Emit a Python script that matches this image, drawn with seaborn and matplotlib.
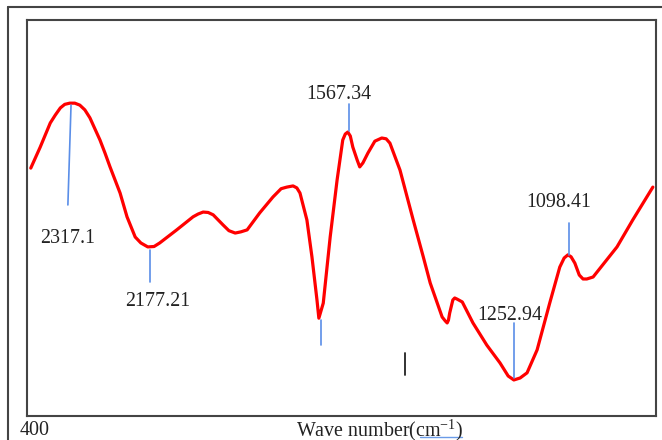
import numpy as np
import pandas as pd
import seaborn as sns
import matplotlib.pyplot as plt
from matplotlib.lines import Line2D

# spectrum (position along axis 0-100, transmittance 0-100)
pos = [0.6, 2.1, 3.7, 4.5, 5.3, 6.0, 6.8, 7.6, 8.4, 9.2, 10.0, 11.6, 12.4, 13.2, 14.0,
       14.8, 15.9, 17.2, 18.1, 19.2, 20.2, 21.1, 23.8, 26.4, 27.2, 28.0, 28.8, 29.6,
       31.2, 32.1, 33.1, 34.0, 35.0, 37.0, 39.1, 40.4, 41.3, 42.3, 42.9, 43.4, 44.5,
       45.3, 46.1, 46.4, 47.1, 48.2, 49.3, 50.2, 50.6, 51.0, 51.4, 51.8, 52.5, 52.9,
       53.4, 54.2, 55.3, 56.4, 57.1, 57.7, 59.3, 61.4, 63.0, 64.1, 66.0, 66.5, 66.8,
       67.0, 67.2, 67.7, 68.0, 68.4, 69.2, 70.9, 73.1, 75.2, 76.5, 77.4, 78.4, 79.5,
       81.1, 83.1, 84.7, 85.4, 86.0, 86.5, 87.1, 87.8, 88.4, 89.0, 90.0, 93.8, 96.3, 99.5]
trans = [62.6, 67.9, 74.0, 76.0, 77.8, 78.7, 79.0, 79.0, 78.5, 77.3, 75.3, 69.7, 66.4, 62.9, 59.6,
         56.3, 50.3, 45.2, 43.7, 42.7, 42.8, 43.7, 47.0, 50.3, 51.0, 51.5, 51.4, 50.8,
         48.2, 46.8, 46.2, 46.5, 47.0, 51.3, 55.3, 57.4, 57.8, 58.1, 57.6, 56.3, 49.5,
         40.2, 29.3, 24.7, 28.5, 45.2, 59.6, 69.7, 71.2, 71.7, 70.7, 67.9, 64.6, 62.9,
         63.9, 66.4, 69.4, 70.2, 70.0, 68.9, 62.1, 49.5, 40.2, 33.6, 25.0, 24.0, 23.5,
         24.2, 26.0, 29.3, 29.8, 29.5, 28.8, 23.5, 17.9, 13.4, 10.1, 9.1, 9.6, 10.9,
         16.7, 28.5, 37.6, 39.9, 40.7, 40.2, 38.6, 35.6, 34.6, 34.6, 35.1, 42.7, 49.5, 57.8]

# peak marks: label, x, line from y0 to y1, label position
peak_labels = ["2317.1", "2177.21", "1567.34", "", "1252.94", "1098.41"]
peak_x = [7.0, 19.6, 51.2, 46.7, 77.4, 86.2]
peak_x_end = [6.5, 19.6, 51.2, 46.7, 77.4, 86.2]
peak_y0 = [78.5, 41.9, 72.0, 24.2, 9.6, 40.7]
peak_y1 = [53.3, 33.8, 78.8, 17.9, 23.5, 48.7]
label_x = [6.5, 20.7, 49.6, 0, 76.8, 84.6]
label_y = [44.9, 28.8, 81.3, 0, 25.5, 53.8]

df = pd.DataFrame({"pos": pos, "trans": trans})

sns.set_style("white")
plt.rcParams["font.family"] = ["Liberation Serif", "DejaVu Serif"]
plt.rcParams["mathtext.default"] = "regular"

fig = plt.figure(figsize=(6.62, 4.40), dpi=100)
ax = fig.add_axes([27 / 662, 24 / 440, 629 / 662, 396 / 440])

sns.lineplot(data=df, x="pos", y="trans", sort=False, color="#ff0000", lw=2.3, ax=ax,
             solid_joinstyle="round", solid_capstyle="round")

blue = "#5a8ee8"
for lab, x0, x1, y0, y1, lx, ly in zip(peak_labels, peak_x, peak_x_end, peak_y0, peak_y1,
                                       label_x, label_y):
    ax.plot([x0, x1], [y0, y1], color=blue, lw=1.2)
    if lab:
        ax.text(lx, ly, lab, ha="center", va="center", fontsize=14.4, color="#222222")

# small black tick mark
ax.plot([60.1, 60.1], [10.4, 15.9], color="#222222", lw=1.3)

ax.set_xlim(0, 100)
ax.set_ylim(0, 100)
ax.set_xticks([])
ax.set_yticks([])
ax.set_xlabel("")
ax.set_ylabel("")
for s in ax.spines.values():
    s.set_color("#444444")
    s.set_linewidth(1.5)

# outer frame
fig.add_artist(Line2D([8 / 662, 8 / 662], [0, 433 / 440], color="#444444", lw=1.5))
fig.add_artist(Line2D([8 / 662, 1], [433 / 440, 433 / 440], color="#444444", lw=1.5))

fig.text(20 / 662, 1 - 430 / 440, "400", ha="left", va="center", fontsize=14.4, color="#222222")
fig.text(380 / 662, 1 - 430 / 440, "Wave number(cm$^{-1}$)", ha="center", va="center",
         fontsize=14.4, color="#222222")
fig.add_artist(Line2D([420 / 662, 462 / 662], [1 - 437 / 440, 1 - 437 / 440],
                      color="#6a9be8", lw=1))

fig.savefig("out.png", dpi=100)
